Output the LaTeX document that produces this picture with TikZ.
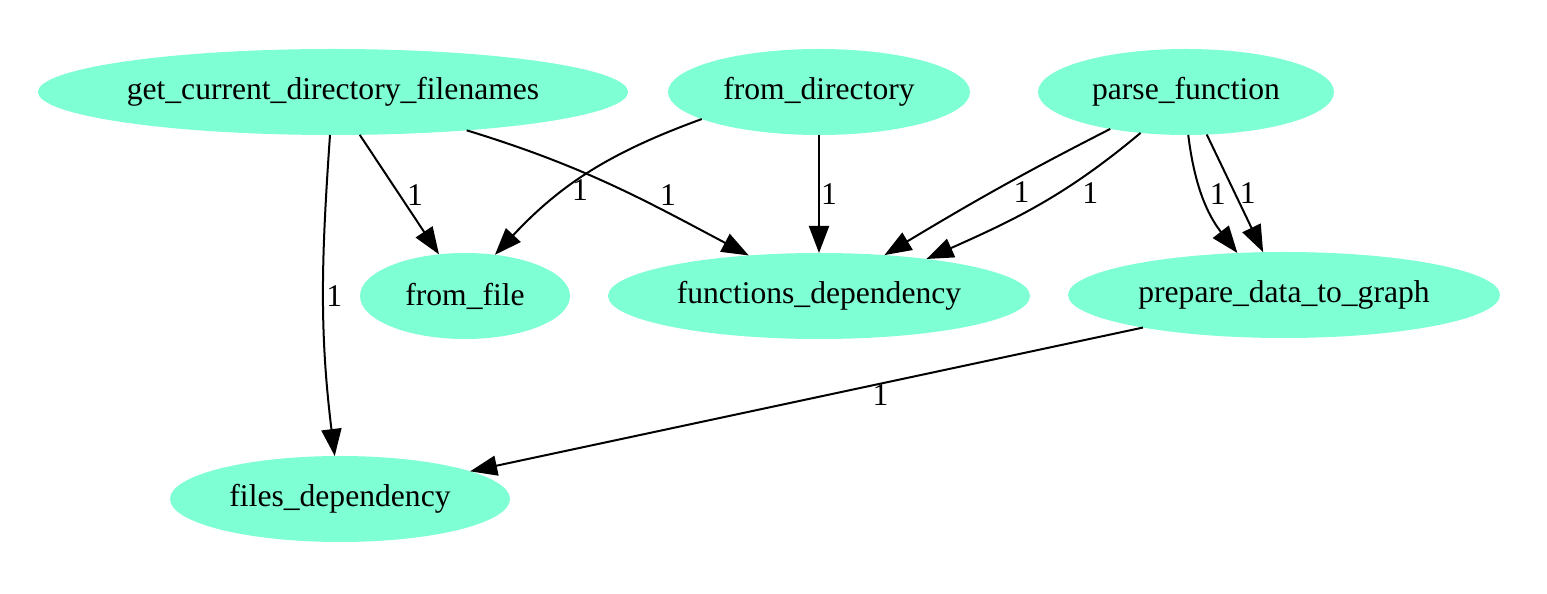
\documentclass[tikz,border=0pt]{standalone}
\usepackage{fontspec}
\setmainfont{Liberation Serif}
\usetikzlibrary{shapes.geometric,arrows.meta}

\definecolor{aquamarine}{HTML}{7FFFD4}

\begin{document}
\begin{tikzpicture}[x=0.5pt,y=0.5pt,
    fn/.style={ellipse,fill=aquamarine,inner sep=0pt,outer sep=0pt,minimum height=43pt,font=\fontsize{15.8}{19}\selectfont},
    dep/.style={-{Triangle[length=13.5pt,width=10pt]},line width=1pt},
    lbl/.style={font=\fontsize{15.8}{19}\selectfont}]
    \useasboundingbox (0,0) rectangle (1547,594);

    \node[fn,minimum width=295pt] (gcdf) at (333,502) {get\_current\_directory\_filenames};
    \node[fn,minimum width=151pt] (fromdir) at (819,502) {from\_directory};
    \node[fn,minimum width=148pt] (parsefn) at (1186,502) {parse\_function};
    \node[fn,minimum width=105pt] (fromfile) at (465,298) {from\_file};
    \node[fn,minimum width=211pt] (funcdep) at (819,298) {functions\_dependency};
    \node[fn,minimum width=216pt] (prepare) at (1284,299) {prepare\_data\_to\_graph};
    \node[fn,minimum width=170pt] (filesdep) at (340,95) {files\_dependency};

    \draw[dep] (gcdf.-58) -- node[lbl,right] {1} (fromfile.122);
    \draw[dep] (gcdf.-16) to[out=-17,in=152] node[lbl,pos=0.72,above] {1} (funcdep.150);
    \draw[dep] (gcdf.-94) to[out=-94,in=97] node[lbl,right,inner sep=1pt] {1} (filesdep.97);
    \draw[dep] (fromdir.-167) to[out=200,in=47] node[lbl,pos=0.63,right] {1} (fromfile.54);
    \draw[dep] (fromdir.south) -- node[lbl,right,inner sep=0.5pt] {1} (funcdep.north);
    \draw[dep] (parsefn.-154) to[out=207,in=31] node[lbl,pos=0.52,right=7pt] {1} (funcdep.32);
    \draw[dep] (parsefn.-138) to[out=220,in=24] node[lbl,pos=0.4,right=8pt] {1} (funcdep.19);
    \draw[dep] (parsefn.-87) to[out=-83,in=128] node[lbl,pos=0.47,right] {1} (prepare.138);
    \draw[dep] (parsefn.-64) -- node[lbl,right,inner sep=2pt] {1} (prepare.116);
    \draw[dep] (prepare.-167) -- node[lbl,pos=0.39,yshift=-5.5pt] {1} (filesdep.12);
\end{tikzpicture}
\end{document}
